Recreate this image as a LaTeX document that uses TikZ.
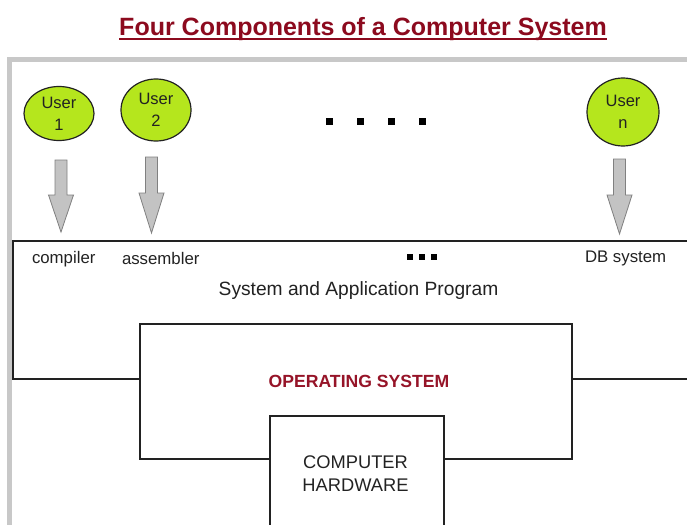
\documentclass[tikz,border=0pt]{standalone}
\usepackage{fontspec}
\setmainfont{Liberation Sans}
\usetikzlibrary{shapes.geometric}
\definecolor{titlered}{RGB}{140,10,30}
\definecolor{osred}{RGB}{150,20,40}
\definecolor{usergreen}{RGB}{181,230,29}
\definecolor{framegray}{RGB}{200,200,200}
\definecolor{arrowfill}{RGB}{195,195,195}
\definecolor{arrowline}{RGB}{128,128,128}
\definecolor{ink}{RGB}{34,34,34}
\newcommand\blockarrow[4]{%
  \draw[blk] (#1-6,#2) -- (#1+6,#2) -- (#1+6,#3) -- (#1+12.5,#3) -- (#1,#4)
    -- (#1-12.5,#3) -- (#1-6,#3) -- cycle;}
\begin{document}
\begin{tikzpicture}[x=1pt,y=-1pt,
  layerbox/.style={draw=ink, line width=1.5pt, fill=white, inner sep=0pt, outer sep=0pt, anchor=north west},
  user/.style={ellipse, draw=ink, line width=1.2pt, fill=usergreen, inner sep=0pt, align=center,
    font=\fontsize{16.5}{21.7}\selectfont, text=ink},
  lbl/.style={inner sep=0pt, outer sep=0pt, text=ink},
  small/.style={lbl, anchor=base west, font=\fontsize{16.8}{20}\selectfont},
  blk/.style={fill=arrowfill, draw=arrowline, line width=0.8pt, line join=miter}
]
\clip (0,0) rectangle (687,524);
\fill[white] (0,0) rectangle (687,524);

% outer frame
\draw[framegray, line width=5pt] (9.5,540) -- (9.5,59.5) -- (720,59.5);

% layers
\node[layerbox, minimum width=720pt, minimum height=138pt] (prog) at (13,241) {};
\node[layerbox, minimum width=432pt, minimum height=135pt] (os) at (140,324) {};
\node[layerbox, minimum width=174pt, minimum height=140pt] (hw) at (270,416) {};

% title
\node[lbl, anchor=base, font=\fontsize{25}{30}\selectfont\bfseries, text=titlered] (title) at (363,35.5)
  {Four Components of a Computer System};
\draw[titlered, line width=2.2pt] ([yshift=-3.5pt]title.base west) -- ([yshift=-3.5pt]title.base east);

% users
\node[user, minimum width=70pt, minimum height=54pt] (u1) at (59,113.5) {User\\1};
\node[user, minimum width=70pt, minimum height=62pt] (u2) at (156,110) {User\\2};
\node[user, minimum width=72pt, minimum height=68pt] (un) at (623,112) {User\\n};

% block arrows
\blockarrow{61}{160}{195}{232}
\blockarrow{151.5}{157}{193}{233}
\blockarrow{619.5}{159}{195}{234}

% dots
\foreach \x in {329,360,391,422} \fill[black] (\x-3.5,117.5) rectangle (\x+3.5,124.5);
\foreach \x in {410,422,434} \fill[black] (\x-2.8,254.2) rectangle (\x+2.8,259.8);

% labels
\node[small] (comp) at (32,263) {compiler};
\node[small] (asm) at (122,264) {assembler};
\node[small] (db) at (585,262.5) {DB system};
\node[lbl, anchor=base, font=\fontsize{19.2}{23}\selectfont] (sap) at (358.5,295) {System and Application Program};
\node[lbl, anchor=base, font=\fontsize{17.6}{21}\selectfont\bfseries, text=osred] (ostext) at (359,387) {OPERATING SYSTEM};
\node[lbl, anchor=north, align=center, font=\fontsize{18.3}{22.7}\selectfont] (hwtext) at (355.5,456) {COMPUTER\\HARDWARE};
\end{tikzpicture}
\end{document}
